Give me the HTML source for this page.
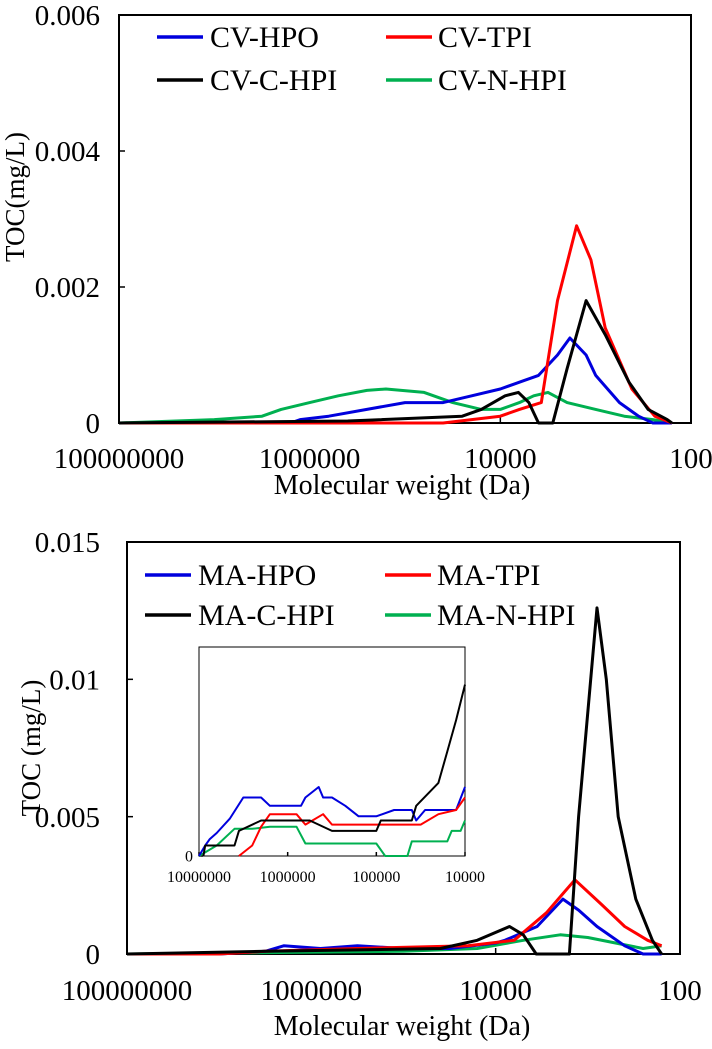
<!DOCTYPE html>
<html><head><meta charset="utf-8"><style>
body{margin:0;background:#fff;}
svg{display:block;font-family:"Liberation Serif",serif;}
</style></head><body>
<svg id="s" width="712" height="1049" viewBox="0 0 712 1049"></svg>
<script>
// ---- Top chart data (x = log10 MW, y = TOC mg/L)
const cvHpoX=[8,6.2,6.1,5.8,5.4,5.0,4.6,4.3,4.0,3.8,3.6,3.4,3.27,3.1,3.0,2.75,2.55,2.4,2.2];
const cvHpoY=[0,0,0.00005,0.0001,0.0002,0.0003,0.0003,0.0004,0.0005,0.0006,0.0007,0.001,0.00125,0.001,0.0007,0.0003,0.0001,0,0];
const cvTpiX=[8,4.6,4.3,4.0,3.8,3.57,3.4,3.2,3.05,2.9,2.62,2.38,2.2];
const cvTpiY=[0,0,0.00005,0.0001,0.0002,0.0003,0.0018,0.0029,0.0024,0.0014,0.0005,0.0001,0];
const cvChpiX=[8,5.6,4.4,4.2,3.95,3.81,3.7,3.6,3.45,3.3,3.1,2.9,2.65,2.45,2.25,2.2];
const cvChpiY=[0,0.00003,0.0001,0.0002,0.0004,0.00045,0.0003,0,0,0.0008,0.0018,0.0013,0.0006,0.0002,0.00005,0];
const cvNhpiX=[8,7.0,6.5,6.3,6.0,5.7,5.4,5.2,4.8,4.5,4.2,4.0,3.8,3.65,3.5,3.3,3.0,2.7,2.4,2.2];
const cvNhpiY=[0,0.00005,0.0001,0.0002,0.0003,0.0004,0.00048,0.0005,0.00045,0.0003,0.0002,0.0002,0.0003,0.0004,0.00045,0.0003,0.0002,0.0001,0.00005,0];
// ---- Bottom chart data
const maHpoX=[8,7.0,6.5,6.3,5.9,5.5,5.0,4.5,4.0,3.9,3.55,3.27,3.1,2.9,2.6,2.4,2.2];
const maHpoY=[0,0,0.0001,0.0003,0.0002,0.0003,0.0002,0.0002,0.0004,0.0005,0.001,0.002,0.0016,0.001,0.0003,0,0];
const maTpiX=[8,7.0,6.5,5.5,4.3,3.8,3.45,3.14,2.85,2.6,2.35,2.2];
const maTpiY=[0,0,0.0001,0.0002,0.0003,0.0005,0.0015,0.0027,0.0018,0.001,0.0005,0.0003];
const maChpiX=[8,6.5,5.5,4.6,4.2,3.85,3.7,3.56,3.2,3.1,2.9,2.8,2.67,2.48,2.3,2.2];
const maChpiY=[0,0.0001,0.00015,0.0002,0.0005,0.001,0.0007,0,0,0.005,0.0126,0.01,0.005,0.002,0.0005,0];
const maNhpiX=[8,6.5,5.0,4.2,3.7,3.3,3.0,2.7,2.4,2.2];
const maNhpiY=[0,0.00005,0.0001,0.0002,0.0005,0.0007,0.0006,0.0004,0.0002,0.0003];
// ---- Inset data
const inHpoX=[7.0,6.93,6.88,6.8,6.65,6.5,6.3,6.2,5.85,5.8,5.65,5.6,5.5,5.35,5.2,5.0,4.8,4.6,4.55,4.45,4.1,4.0];
const inHpoY=[0,0.00005,0.00008,0.00011,0.00018,0.00028,0.00028,0.00024,0.00024,0.00028,0.00033,0.00028,0.00028,0.00024,0.00019,0.00019,0.00022,0.00022,0.00017,0.00022,0.00022,0.00033];
const inTpiX=[6.55,6.4,6.3,6.2,5.9,5.8,5.6,5.5,4.9,4.5,4.3,4.1,4.0];
const inTpiY=[0,0.00005,0.00014,0.0002,0.0002,0.00015,0.0002,0.00015,0.00015,0.00015,0.0002,0.00022,0.00028];
const inChpiX=[6.95,6.93,6.6,6.55,6.3,5.75,5.5,5.0,4.95,4.6,4.55,4.3,4.2,4.1,4.0];
const inChpiY=[0,0.00005,0.00005,0.00012,0.00017,0.00017,0.00012,0.00012,0.00017,0.00017,0.00024,0.00035,0.0005,0.00065,0.00082];
const inNhpiX=[7,6.8,6.6,6.4,6.2,5.9,5.8,5.0,4.9,4.65,4.6,4.2,4.15,4.05,4.0];
const inNhpiY=[0,0.00005,0.00013,0.00013,0.00014,0.00014,0.00006,0.00006,0,0,0.00007,0.00007,0.00012,0.00012,0.00017];
const xTicks=["100000000","1000000","10000","100"];
const xTickVals=[8,6,4,2];
const topYTicks=[0,0.002,0.004,0.006];
const topYLabels=["0","0.002","0.004","0.006"];
const botYTicks=[0,0.005,0.01,0.015];
const botYLabels=["0","0.005","0.01","0.015"];
const inXTicks=["10000000","1000000","100000","10000"];
const inXVals=[7,6,5,4];

const S=document.getElementById('s');
const NS='http://www.w3.org/2000/svg';
function el(t,a,txt){const e=document.createElementNS(NS,t);for(const k in a)e.setAttribute(k,a[k]);if(txt!==undefined)e.textContent=txt;S.appendChild(e);return e;}
const COL={blue:'#0000dd',red:'#ff0000',black:'#000',green:'#00b050'};

function chart(cfg){
  const sx=v=>cfg.x0+(cfg.lx0-v)/(cfg.lx0-cfg.lx1)*(cfg.x1-cfg.x0);
  const sy=v=>cfg.y0-(v/cfg.ymax)*(cfg.y0-cfg.y1);
  const r=el('rect',{x:cfg.x0,y:cfg.y1,width:cfg.x1-cfg.x0,height:cfg.y0-cfg.y1,fill:'none',stroke:'#000','stroke-width':cfg.bw});
  
  
  cfg.yt.forEach((v,i)=>{
    const y=sy(v);
    const tk=el('line',{x1:cfg.x0,x2:cfg.x0+(cfg.small?4:6),y1:y,y2:y,stroke:'#000','stroke-width':1.5});
    
    
    const t=el('text',{x:cfg.x0-cfg.ylo,y:y+cfg.fs*0.35,'text-anchor':'end','font-size':cfg.fs},cfg.yl[i]);
    
    
  });
  cfg.xv.forEach((v,i)=>{
    const x=sx(v);
    const tk=el('line',{x1:x,x2:x,y1:cfg.y0,y2:cfg.y0-(cfg.small?4:6),stroke:'#000','stroke-width':1.5});
    
    
    const t=el('text',{x:x,y:cfg.y0+cfg.xlo,'text-anchor':'middle','font-size':cfg.fs},cfg.xl[i]);
    
    
  });
  cfg.series.forEach(s=>{
    const pts=s.x.map((v,i)=>sx(v).toFixed(1)+','+sy(s.y[i]).toFixed(1)).join(' ');
    const p=el('polyline',{points:pts,fill:'none',stroke:COL[s.c],'stroke-width':cfg.lw,'stroke-linejoin':'round'});
    
    
  });
}

// Top chart
chart({name:'top',x0:119,x1:691,y0:423,y1:15,lx0:8,lx1:2,ymax:0.006,bw:2,fs:29,xlo:45,ylo:19,lw:3,
  yt:topYTicks,yl:topYLabels,xv:xTickVals,xl:xTicks,
  series:[{x:cvNhpiX,y:cvNhpiY,c:'green',n:'cv-n-hpi'},{x:cvHpoX,y:cvHpoY,c:'blue',n:'cv-hpo'},{x:cvTpiX,y:cvTpiY,c:'red',n:'cv-tpi'},{x:cvChpiX,y:cvChpiY,c:'black',n:'cv-c-hpi'}]});
// Bottom chart
chart({name:'bottom',x0:127,x1:680,y0:954,y1:542,lx0:8,lx1:2,ymax:0.015,bw:2,fs:29,xlo:46,ylo:27,lw:3,
  yt:botYTicks,yl:botYLabels,xv:xTickVals,xl:xTicks,
  series:[{x:maNhpiX,y:maNhpiY,c:'green',n:'ma-n-hpi'},{x:maHpoX,y:maHpoY,c:'blue',n:'ma-hpo'},{x:maTpiX,y:maTpiY,c:'red',n:'ma-tpi'},{x:maChpiX,y:maChpiY,c:'black',n:'ma-c-hpi'}]});
// Inset
chart({name:'inset',x0:199,x1:465,y0:856,y1:647,lx0:7,lx1:4,ymax:0.001,bw:1,fs:16,xlo:26,ylo:6,lw:2,small:true,
  yt:[0],yl:["0"],xv:inXVals,xl:inXTicks,
  series:[{x:inNhpiX,y:inNhpiY,c:'green',n:'inset-ma-n-hpi'},{x:inHpoX,y:inHpoY,c:'blue',n:'inset-ma-hpo'},{x:inTpiX,y:inTpiY,c:'red',n:'inset-ma-tpi'},{x:inChpiX,y:inChpiY,c:'black',n:'inset-ma-c-hpi'}]});

// Legends
function legend(items){
  items.forEach(it=>{
    const l=el('line',{x1:it.x,x2:it.x+46,y1:it.y,y2:it.y,stroke:COL[it.c],'stroke-width':3.5});
    
    
    const t=el('text',{x:it.x+it.g,y:it.y+10,'font-size':30},it.t);
    
    
  });
}
legend([{x:157,y:37,c:'blue',t:'CV-HPO',g:53},{x:386,y:37,c:'red',t:'CV-TPI',g:52},{x:157,y:80,c:'black',t:'CV-C-HPI',g:53},{x:386,y:80,c:'green',t:'CV-N-HPI',g:52}]);
legend([{x:145,y:575,c:'blue',t:'MA-HPO',g:53},{x:385,y:575,c:'red',t:'MA-TPI',g:52},{x:145,y:615,c:'black',t:'MA-C-HPI',g:53},{x:385,y:615,c:'green',t:'MA-N-HPI',g:52}]);

// Axis titles
let t=el('text',{x:402,y:494,'text-anchor':'middle','font-size':28},'Molecular weight (Da)');


t=el('text',{x:402,y:1035,'text-anchor':'middle','font-size':28},'Molecular weight (Da)');


t=el('text',{x:0,y:0,'text-anchor':'middle','font-size':27,transform:'translate(24,197) rotate(-90)'},'TOC(mg/L)');


t=el('text',{x:0,y:0,'text-anchor':'middle','font-size':27,transform:'translate(40,748) rotate(-90)'},'TOC (mg/L)');


</script>
</body></html>
